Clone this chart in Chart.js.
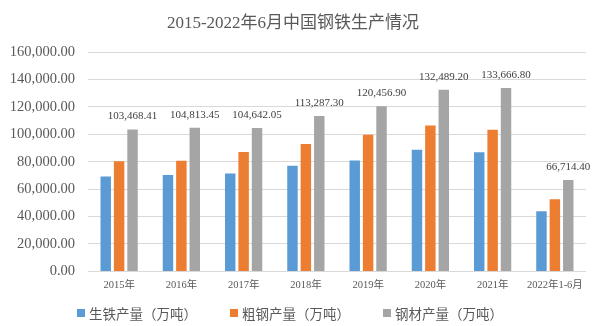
<!DOCTYPE html>
<html>
<head>
<meta charset="utf-8">
<script src="https://cdn.jsdelivr.net/npm/chart.js@4/dist/chart.umd.min.js"></script>
<style>
  html, body { margin: 0; padding: 0; background: #fff; }
  canvas { display: block; }
</style>
</head>
<body>
<canvas id="grafico" width="600" height="326"></canvas>
<script>
// 2015 - 2022年上半年 生铁 / 粗钢 / 钢材 产量（万吨）
const anos = ["2015年", "2016年", "2017年", "2018年", "2019年", "2020年", "2021年", "2022年1-6月"];
const gusa = [69141.3, 70227.3, 71361.9, 77105.4, 80936.5, 88752.4, 86856.8, 43893.0];
const acoBruto = [80382.5, 80760.9, 87074.1, 92826.4, 99634.2, 106476.7, 103279.0, 52688.0];
const acoLaminado = [103468.41, 104813.45, 104642.05, 113287.30, 120456.90, 132489.20, 133666.80, 66714.40];
const nomesSeries = ["生铁产量（万吨）", "粗钢产量（万吨）", "钢材产量（万吨）"];
const cores = ["#5b9bd5", "#ed7d31", "#a5a5a5"];

const serif = "'Liberation Serif', 'Noto Sans CJK SC', serif";
const fonteLegenda = "13.5px 'Noto Sans CJK SC', sans-serif";
const fmt = v => v.toLocaleString("en-US", { minimumFractionDigits: 2, maximumFractionDigits: 2 });

// rótulos só sobre as barras de aço laminado
const rotulosBarras = {
  id: "rotulosBarras",
  afterDatasetsDraw(chart) {
    const ctx = chart.ctx;
    const meta = chart.getDatasetMeta(2);
    ctx.save();
    ctx.font = "11px " + serif;
    ctx.fillStyle = "#404040";
    ctx.textAlign = "center";
    ctx.textBaseline = "middle";
    meta.data.forEach((barra, i) => {
      ctx.fillText(fmt(acoLaminado[i]), barra.x, barra.y - 13);
    });
    ctx.restore();
  }
};

// legenda desenhada à mão (a nativa separa demais o quadrado do texto)
const legendaRodape = {
  id: "legendaRodape",
  afterDraw(chart) {
    const ctx = chart.ctx;
    const quadrado = 8, folga = 4, espaco = 33;
    ctx.save();
    ctx.font = fonteLegenda;
    const larguras = nomesSeries.map(n => ctx.measureText(n).width);
    const total = larguras.reduce((a, w) => a + quadrado + folga + w, 0) + espaco * (nomesSeries.length - 1);
    let x = chart.width / 2 - 10 - total / 2;
    const y = 313;
    ctx.textBaseline = "middle";
    nomesSeries.forEach((nome, i) => {
      ctx.fillStyle = cores[i];
      ctx.fillRect(x, y - quadrado / 2, quadrado, quadrado);
      ctx.fillStyle = "#595959";
      ctx.fillText(nome, x + quadrado + folga, y + 1);
      x += quadrado + folga + larguras[i] + espaco;
    });
    ctx.restore();
  }
};

const series = [gusa, acoBruto, acoLaminado].map((dados, i) => ({
  label: nomesSeries[i],
  data: dados,
  backgroundColor: cores[i],
  borderWidth: 0,
  categoryPercentage: 0.646,
  barPercentage: 0.78
}));

new Chart(document.getElementById("grafico"), {
  type: "bar",
  data: { labels: anos, datasets: series },
  options: {
    responsive: false,
    animation: false,
    layout: { padding: { left: 0, right: 14, top: 0, bottom: 34 } },
    plugins: {
      title: {
        display: true,
        text: "2015-2022年6月中国钢铁生产情况",
        color: "#595959",
        font: { family: serif, size: 17, weight: "normal" },
        padding: { top: 13, bottom: 18.6 }
      },
      legend: { display: false },
      tooltip: { enabled: false }
    },
    scales: {
      x: {
        grid: { display: false },
        border: { display: false },
        ticks: {
          color: "#595959",
          font: { family: serif, size: 10.5 },
          maxRotation: 0,
          autoSkip: false,
          padding: 0
        }
      },
      y: {
        min: 0,
        max: 160000,
        afterFit: s => { s.width = 88; },
        grid: { color: "#d9d9d9", drawTicks: false },
        border: { display: false },
        ticks: {
          stepSize: 20000,
          color: "#595959",
          padding: 13,
          font: { family: serif, size: 14.5 },
          callback: v => fmt(v)
        }
      }
    }
  },
  plugins: [rotulosBarras, legendaRodape]
});
</script>
</body>
</html>
